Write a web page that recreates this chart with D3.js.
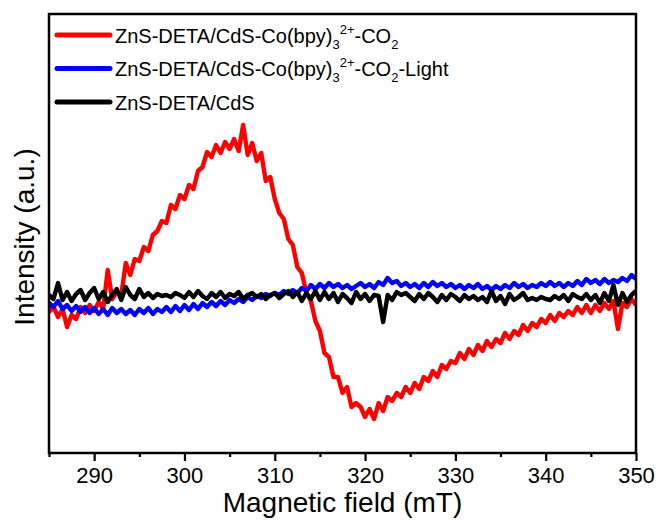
<!DOCTYPE html>
<html>
<head>
<meta charset="utf-8">
<script src="https://cdn.jsdelivr.net/npm/d3@7"></script>
<style>
  body { margin: 0; background: #fff; }
  svg text { font-family: "Liberation Sans", Arial, sans-serif; fill: #000; }
</style>
</head>
<body>
<div id="chart"></div>
<script>
// magnetic field grid (mT), 0.5 mT steps
const field = [
  285.0,285.5,286.0,286.5,287.0,287.5,288.0,288.5,289.0,289.5,
  290.0,290.5,291.0,291.5,292.0,292.5,293.0,293.5,294.0,294.5,
  295.0,295.5,296.0,296.5,297.0,297.5,298.0,298.5,299.0,299.5,
  300.0,300.5,301.0,301.5,302.0,302.5,303.0,303.5,304.0,304.5,
  305.0,305.5,306.0,306.5,307.0,307.5,308.0,308.5,309.0,309.5,
  310.0,310.5,311.0,311.5,312.0,312.5,313.0,313.5,314.0,314.5,
  315.0,315.5,316.0,316.5,317.0,317.5,318.0,318.5,319.0,319.5,
  320.0,320.5,321.0,321.5,322.0,322.5,323.0,323.5,324.0,324.5,
  325.0,325.5,326.0,326.5,327.0,327.5,328.0,328.5,329.0,329.5,
  330.0,330.5,331.0,331.5,332.0,332.5,333.0,333.5,334.0,334.5,
  335.0,335.5,336.0,336.5,337.0,337.5,338.0,338.5,339.0,339.5,
  340.0,340.5,341.0,341.5,342.0,342.5,343.0,343.5,344.0,344.5,
  345.0,345.5,346.0,346.5,347.0,347.5,348.0,348.5,349.0,349.5,
  350.0
];

// ZnS-DETA/CdS-Co(bpy)3 2+ -CO2
const redValues = [
  -0.15,-0.10,-0.20,-0.12,-0.30,-0.18,-0.22,-0.10,-0.16,-0.08,
  -0.14,-0.05,-0.12,0.27,-0.02,0.05,0.02,0.34,0.22,0.38,
  0.36,0.50,0.46,0.62,0.66,0.76,0.74,0.92,0.88,1.02,
  0.98,1.12,1.08,1.26,1.30,1.45,1.40,1.52,1.44,1.55,
  1.48,1.58,1.46,1.72,1.42,1.54,1.36,1.44,1.16,1.20,
  0.98,0.84,0.78,0.58,0.52,0.30,0.24,0.04,-0.04,-0.24,
  -0.34,-0.56,-0.60,-0.80,-0.80,-0.96,-0.90,-1.10,-1.06,-1.10,
  -1.20,-1.12,-1.22,-1.06,-1.14,-1.00,-1.04,-0.96,-1.00,-0.90,
  -0.96,-0.86,-0.92,-0.80,-0.84,-0.74,-0.80,-0.68,-0.72,-0.64,
  -0.66,-0.56,-0.62,-0.52,-0.58,-0.48,-0.54,-0.44,-0.50,-0.42,
  -0.46,-0.36,-0.42,-0.34,-0.38,-0.28,-0.34,-0.26,-0.30,-0.22,
  -0.26,-0.18,-0.24,-0.16,-0.20,-0.14,-0.18,-0.10,-0.16,-0.08,
  -0.16,-0.08,-0.14,-0.06,-0.12,-0.04,-0.32,-0.06,-0.10,-0.02,
  -0.08
];

// ZnS-DETA/CdS-Co(bpy)3 2+ -CO2-Light
const blueValues = [
  -0.06,-0.10,-0.04,-0.12,-0.08,-0.14,-0.09,-0.15,-0.10,-0.16,
  -0.11,-0.17,-0.12,-0.18,-0.11,-0.16,-0.12,-0.17,-0.13,-0.18,
  -0.12,-0.16,-0.11,-0.17,-0.12,-0.15,-0.10,-0.15,-0.09,-0.14,
  -0.08,-0.13,-0.07,-0.12,-0.06,-0.10,-0.05,-0.09,-0.04,-0.08,
  -0.03,-0.06,-0.02,-0.05,0.00,-0.03,0.01,-0.01,0.03,0.01,
  0.04,0.02,0.06,0.03,0.07,0.04,0.09,0.06,0.12,0.08,
  0.13,0.09,0.14,0.10,0.13,0.09,0.12,0.08,0.11,0.14,
  0.10,0.13,0.09,0.15,0.12,0.19,0.14,0.16,0.11,0.14,
  0.10,0.13,0.09,0.14,0.10,0.15,0.11,0.14,0.10,0.13,
  0.09,0.12,0.08,0.12,0.09,0.13,0.08,0.11,0.07,0.11,
  0.08,0.12,0.09,0.14,0.10,0.13,0.09,0.12,0.10,0.14,
  0.11,0.15,0.11,0.14,0.10,0.14,0.11,0.16,0.12,0.18,
  0.14,0.17,0.13,0.18,0.14,0.17,0.15,0.19,0.16,0.22,
  0.18
];

// ZnS-DETA/CdS
const blackValues = [
  0.02,-0.02,0.14,-0.03,0.05,-0.04,0.03,0.07,-0.03,0.04,
  0.09,-0.02,0.05,-0.05,0.02,0.08,-0.03,0.10,0.02,-0.02,
  0.08,0.00,0.04,-0.01,0.03,0.01,0.02,0.00,0.04,0.02,
  -0.01,0.05,0.00,0.06,0.01,-0.02,0.04,0.00,0.05,-0.01,
  0.03,0.01,0.05,-0.02,0.02,0.04,0.00,0.03,-0.02,0.02,
  0.04,-0.01,0.03,0.06,0.00,0.05,-0.04,0.04,-0.02,0.06,
  -0.03,0.05,-0.02,0.04,-0.05,0.03,-0.01,-0.06,0.05,-0.02,
  0.03,-0.04,0.02,0.01,-0.25,0.02,-0.03,0.05,0.02,0.04,
  0.00,-0.04,0.03,-0.02,0.04,0.00,-0.05,0.02,-0.03,0.03,
  0.00,-0.04,0.02,-0.02,0.01,-0.03,0.00,-0.05,0.06,-0.04,
  0.01,-0.07,0.03,-0.03,0.00,0.04,-0.03,-0.01,-0.03,0.00,
  -0.02,-0.03,0.01,-0.02,0.02,-0.04,0.03,0.00,-0.02,0.03,
  -0.03,0.02,-0.06,0.04,-0.04,0.12,-0.08,0.04,-0.05,0.02,
  0.06
];

const majorTicks = [290, 300, 310, 320, 330, 340, 350];
const minorTicks = [285, 295, 305, 315, 325, 335, 345];

const seriesList = [
  { name: 'red', color: '#ff0000', values: redValues, label: [['ZnS-DETA/CdS-Co(bpy)', 0], ['3', 'sub'], ['2+', 'sup'], ['-CO', 0], ['2', 'sub']] },
  { name: 'blue', color: '#0000ff', values: blueValues, label: [['ZnS-DETA/CdS-Co(bpy)', 0], ['3', 'sub'], ['2+', 'sup'], ['-CO', 0], ['2', 'sub'], ['-Light', 0]] },
  { name: 'black', color: '#000000', values: blackValues, label: [['ZnS-DETA/CdS', 0]] }
];

const width = 660, height = 520;
const margin = { top: 14, right: 24, bottom: 67, left: 49 };
const innerW = width - margin.left - margin.right;
const innerH = height - margin.top - margin.bottom;

const svg = d3.select('#chart').append('svg')
  .attr('width', width)
  .attr('height', height);

const chart = svg.append('g')
  .attr('transform', `translate(${margin.left},${margin.top})`);

const x = d3.scaleLinear().domain([285, 350]).range([0, innerW]);
const y = d3.scaleLinear().domain([-1.56, 2.83]).range([innerH, 0]);

// clip so lines stay inside frame
chart.append('clipPath').attr('id', 'clip')
  .append('rect').attr('width', innerW).attr('height', innerH);

const line = d3.line()
  .x((d, i) => x(field[i]))
  .y(d => y(d));

const lines = chart.append('g').attr('clip-path', 'url(#clip)');
seriesList.forEach(s => {
  lines.append('path')
    .datum(s.values)
    .attr('fill', 'none')
    .attr('stroke', s.color)
    .attr('stroke-width', 4.4)
    .attr('stroke-linejoin', 'round')
    .attr('d', line);
});

// x axis: major + minor ticks
const xAxis = chart.append('g')
  .attr('transform', `translate(0,${innerH})`)
  .call(d3.axisBottom(x).tickValues(majorTicks).tickSize(8).tickPadding(6).tickFormat(d3.format('d')));
xAxis.select('.domain').remove();
xAxis.selectAll('.tick line').attr('stroke', '#000').attr('stroke-width', 2.2);
xAxis.selectAll('.tick text').style('font-size', '22px').style('font-family', '"Liberation Sans", Arial, sans-serif');

const xMinor = chart.append('g')
  .attr('transform', `translate(0,${innerH})`)
  .call(d3.axisBottom(x).tickValues(minorTicks).tickSize(4).tickFormat(''));
xMinor.select('.domain').remove();
xMinor.selectAll('.tick line').attr('stroke', '#000').attr('stroke-width', 2.2);

// frame
chart.append('rect')
  .attr('width', innerW)
  .attr('height', innerH)
  .attr('fill', 'none')
  .attr('stroke', '#000')
  .attr('stroke-width', 2.5);

// axis titles
svg.append('text')
  .attr('x', margin.left + innerW / 2)
  .attr('y', 512)
  .attr('text-anchor', 'middle')
  .style('font-size', '28px')
  .text('Magnetic field (mT)');

svg.append('text')
  .attr('transform', `translate(34,${237}) rotate(-90)`)
  .attr('text-anchor', 'middle')
  .style('font-size', '28px')
  .text('Intensity (a.u.)');

// legend
const legend = svg.append('g');
seriesList.forEach((s, i) => {
  const ly = 35 + i * 33.5;
  legend.append('line')
    .attr('x1', 57).attr('x2', 110)
    .attr('y1', ly).attr('y2', ly)
    .attr('stroke', s.color)
    .attr('stroke-width', 5)
    .attr('stroke-linecap', 'round');
  const t = legend.append('text')
    .attr('x', 115)
    .attr('y', ly + 7.5)
    .style('font-size', '20px');
  let shift = 0;
  s.label.forEach(([str, kind]) => {
    let target = 0, size = '20px';
    if (kind === 'sub') { target = 6; size = '13px'; }
    if (kind === 'sup') { target = -9; size = '13px'; }
    t.append('tspan')
      .attr('dy', target - shift)
      .style('font-size', size)
      .text(str);
    shift = target;
  });
});
</script>
</body>
</html>
